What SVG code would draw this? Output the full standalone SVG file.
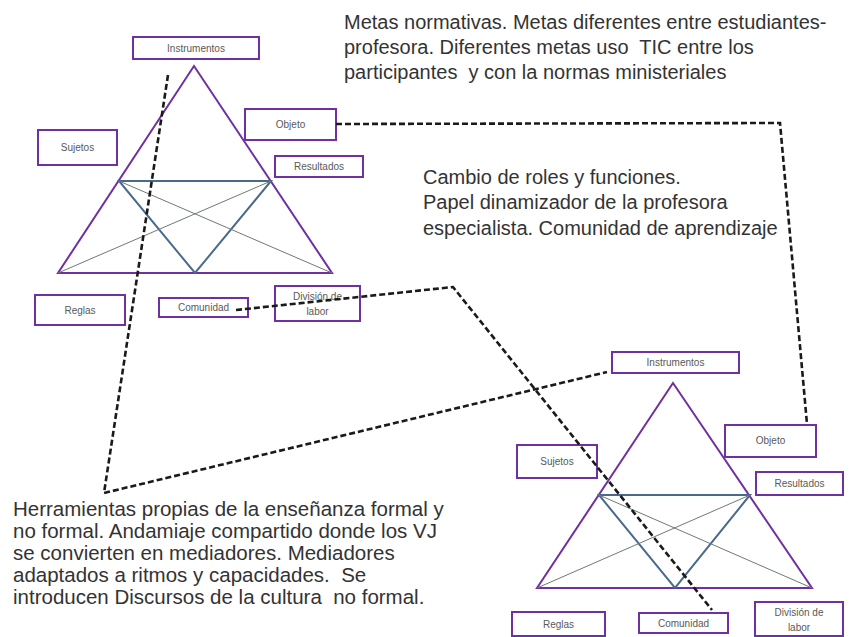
<svg xmlns="http://www.w3.org/2000/svg" width="853" height="637" viewBox="0 0 853 637">
<style>
.box{fill:#fff;stroke:#7030A0;stroke-width:2}
.lbl{font-family:"Liberation Sans",Arial,sans-serif;font-size:10px;fill:#595959;text-anchor:middle}
.tri{fill:none;stroke:#7030A0;stroke-width:2;stroke-linejoin:miter}
.inner{fill:none;stroke:#4A6A8C;stroke-width:2}
.thin{stroke:#6E7A70;stroke-width:1}
.conn{fill:none;stroke:#1a1a1a;stroke-width:2.6;stroke-dasharray:6 3}
.note{font-family:"Liberation Sans",Arial,sans-serif;font-size:20px;fill:#333}
.note2{font-family:"Liberation Sans",Arial,sans-serif;font-size:20.5px;fill:#333}
</style>
<rect width="853" height="637" fill="#fff"/>

<g id="diagram1">
  <g id="d1-triangle">
    <polygon class="tri" points="194,66 332,273 58,273"/>
    <polygon class="inner" points="119,181 271,181 195,273"/>
    <line class="thin" x1="119" y1="181" x2="332" y2="273"/>
    <line class="thin" x1="271" y1="181" x2="58" y2="273"/>
  </g>
  <g id="d1-instrumentos"><rect class="box" x="133" y="37" width="126" height="22"/><text class="lbl" x="196" y="52">Instrumentos</text></g>
  <g id="d1-sujetos"><rect class="box" x="38" y="130" width="79" height="35"/><text class="lbl" x="77.5" y="151">Sujetos</text></g>
  <g id="d1-objeto"><rect class="box" x="245" y="109" width="91" height="31"/><text class="lbl" x="290.5" y="128">Objeto</text></g>
  <g id="d1-resultados"><rect class="box" x="275" y="156" width="88" height="21"/><text class="lbl" x="319" y="170">Resultados</text></g>
  <g id="d1-reglas"><rect class="box" x="35" y="295" width="90" height="30"/><text class="lbl" x="80" y="314">Reglas</text></g>
  <g id="d1-comunidad"><rect class="box" x="159" y="298" width="89" height="19"/><text class="lbl" x="203.5" y="311">Comunidad</text></g>
  <g id="d1-division"><rect class="box" x="275" y="286" width="85" height="35"/><text class="lbl" x="317.5" y="300">División de</text><text class="lbl" x="317.5" y="315">labor</text></g>
</g>

<g id="diagram2">
  <g id="d2-triangle">
    <polygon class="tri" points="673,383 812,588 537,588"/>
    <polygon class="inner" points="599,495 750,495 675,588"/>
    <line class="thin" x1="599" y1="495" x2="812" y2="588"/>
    <line class="thin" x1="750" y1="495" x2="537" y2="588"/>
  </g>
  <g id="d2-instrumentos"><rect class="box" x="612" y="352" width="127" height="21"/><text class="lbl" x="675.5" y="366">Instrumentos</text></g>
  <g id="d2-sujetos"><rect class="box" x="517" y="445" width="80" height="33"/><text class="lbl" x="557" y="465">Sujetos</text></g>
  <g id="d2-objeto"><rect class="box" x="725" y="425" width="91" height="32"/><text class="lbl" x="770.5" y="444">Objeto</text></g>
  <g id="d2-resultados"><rect class="box" x="756" y="472" width="87" height="23"/><text class="lbl" x="799.5" y="487">Resultados</text></g>
  <g id="d2-reglas"><rect class="box" x="512" y="612" width="93" height="24"/><text class="lbl" x="558.5" y="628">Reglas</text></g>
  <g id="d2-comunidad"><rect class="box" x="639" y="613" width="89" height="20"/><text class="lbl" x="683.5" y="627">Comunidad</text></g>
  <g id="d2-division"><rect class="box" x="755" y="602" width="88" height="34"/><text class="lbl" x="799" y="616">División de</text><text class="lbl" x="799" y="631">labor</text></g>
</g>

<g id="connectors">
  <polyline class="conn" points="336,124 780,123 807,424"/>
  <polyline class="conn" points="236,310 453,287 712,610"/>
  <polyline class="conn" points="168,75 104,493 607,372"/>
</g>

<g id="note-metas">
  <text class="note" x="344" y="29">Metas normativas. Metas diferentes entre estudiantes-</text>
  <text class="note" x="344" y="54" xml:space="preserve">profesora. Diferentes metas uso  TIC entre los</text>
  <text class="note" x="344" y="79" xml:space="preserve">participantes  y con la normas ministeriales</text>
</g>
<g id="note-cambio">
  <text class="note" x="423" y="184">Cambio de roles y funciones.</text>
  <text class="note" x="423" y="209">Papel dinamizador de la profesora</text>
  <text class="note" x="423" y="235">especialista. Comunidad de aprendizaje</text>
</g>
<g id="note-herramientas">
  <text class="note2" x="13" y="516">Herramientas propias de la enseñanza formal y</text>
  <text class="note2" x="13" y="538">no formal. Andamiaje compartido donde los VJ</text>
  <text class="note2" x="13" y="560">se convierten en mediadores. Mediadores</text>
  <text class="note2" x="13" y="582" xml:space="preserve">adaptados a ritmos y capacidades.  Se</text>
  <text class="note2" x="13" y="604" xml:space="preserve">introducen Discursos de la cultura  no formal.</text>
</g>
</svg>
